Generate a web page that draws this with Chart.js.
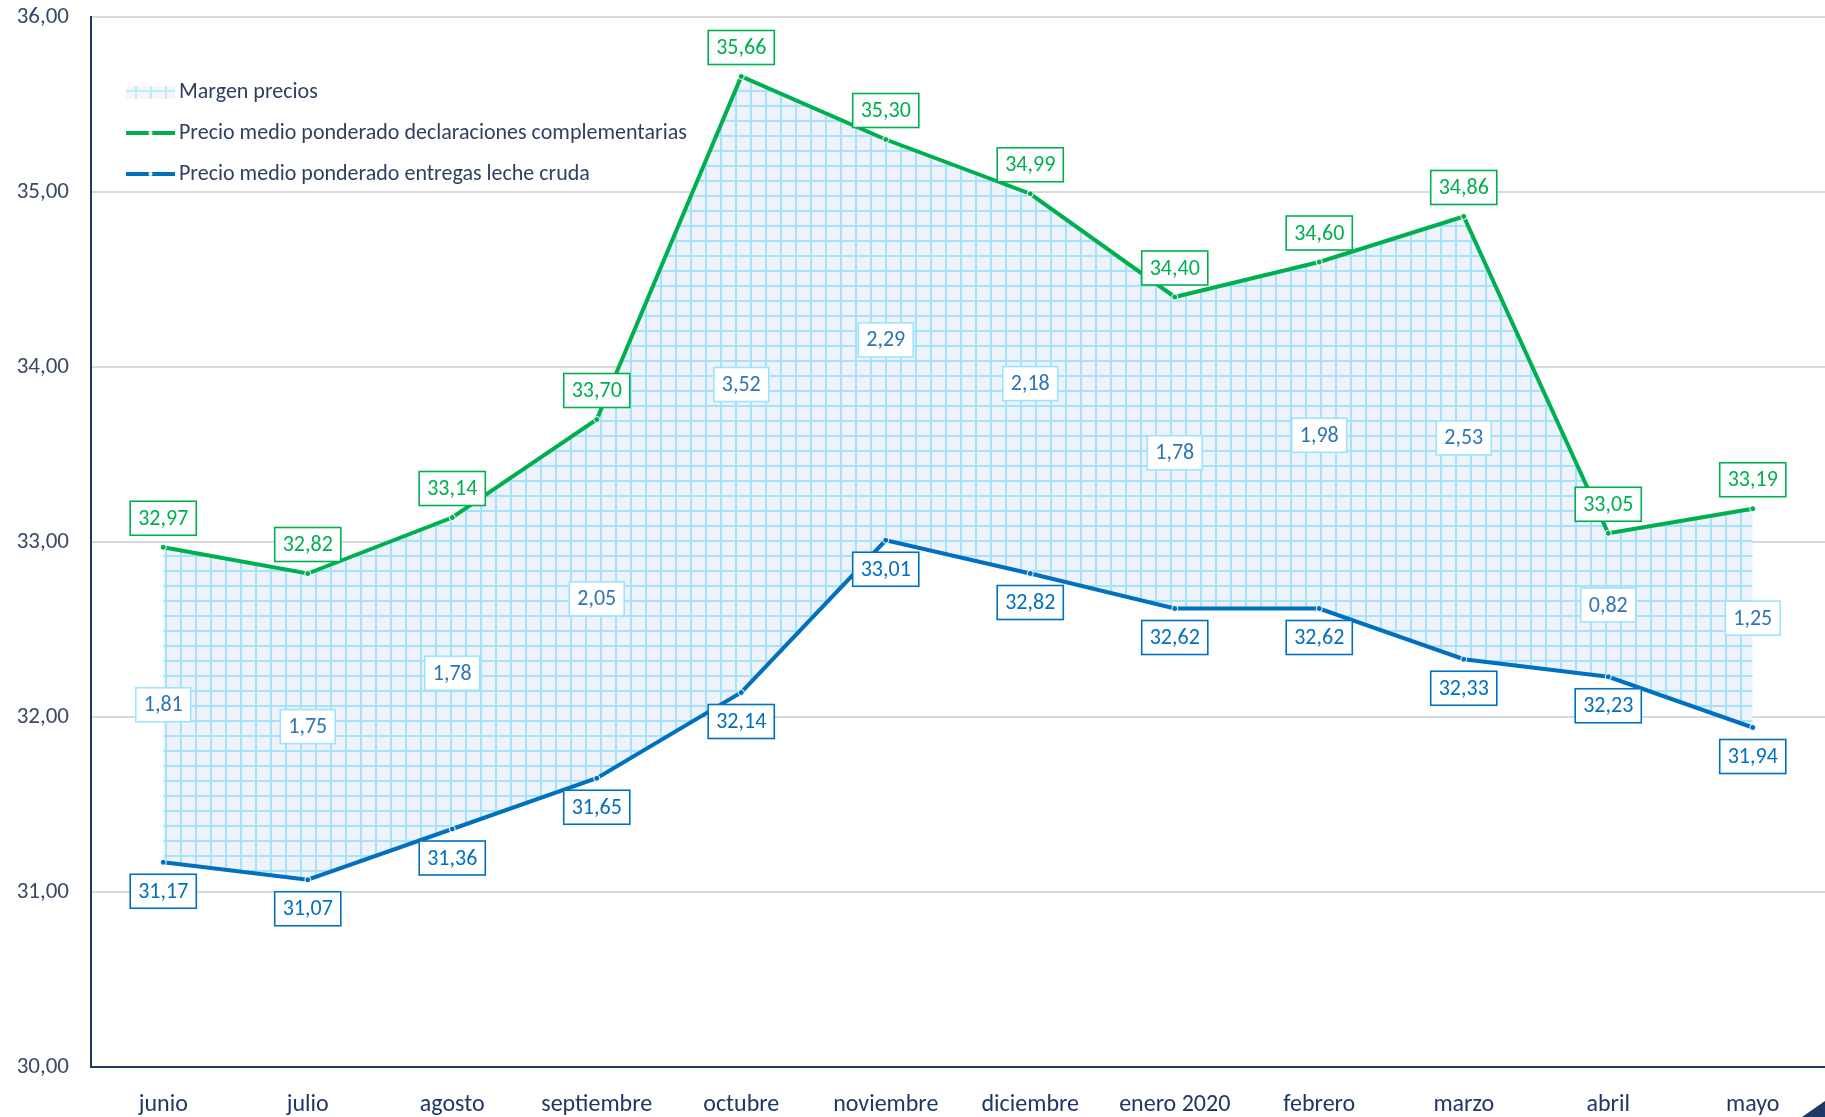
<!DOCTYPE html>
<html>
<head>
<meta charset="utf-8">
<script src="https://cdn.jsdelivr.net/npm/chart.js@4.4.1/dist/chart.umd.min.js"></script>
<style>
  html, body { margin: 0; padding: 0; background: #fff; }
</style>
</head>
<body>
<canvas id="lineChart" width="1825" height="1117"></canvas>
<script>
const meses = ["junio", "julio", "agosto", "septiembre", "octubre", "noviembre", "diciembre", "enero 2020", "febrero", "marzo", "abril", "mayo"];
const precioComplementarias = [32.97, 32.82, 33.14, 33.70, 35.66, 35.30, 34.99, 34.40, 34.60, 34.86, 33.05, 33.19];
const precioEntregas = [31.17, 31.07, 31.36, 31.65, 32.14, 33.01, 32.82, 32.62, 32.62, 32.33, 32.23, 31.94];
const margenPrecios = [1.81, 1.75, 1.78, 2.05, 3.52, 2.29, 2.18, 1.78, 1.98, 2.53, 0.82, 1.25];
const yMin = 30, yMax = 36;

const fuente = "Carlito, Calibri, Lato, sans-serif";
const verde = '#00B050';
const azul = '#0070C0';
const navy = '#1F3864';

const fmt = v => v.toFixed(2).replace('.', ',');

const canvas = document.getElementById('lineChart');
const ctx = canvas.getContext('2d');

// cuadricula del area entre las dos lineas
function cuadricula() {
  const c = document.createElement('canvas');
  c.width = 15; c.height = 15;
  const g = c.getContext('2d');
  g.fillStyle = '#EEF2FA';
  g.fillRect(0, 0, 15, 15);
  g.strokeStyle = '#A6E3FA';
  g.lineWidth = 2;
  g.beginPath();
  g.moveTo(0, 1); g.lineTo(15, 1);
  g.moveTo(1, 0); g.lineTo(1, 15);
  g.stroke();
  return ctx.createPattern(c, 'repeat');
}
const patron = cuadricula();

function caja(c, x, y, texto, borde, color) {
  const w = c.measureText(texto).width + 16;
  const h = 34;
  c.fillStyle = '#fff';
  c.fillRect(x - w / 2, y - h / 2, w, h);
  c.lineWidth = 1.6;
  c.strokeStyle = borde;
  c.strokeRect(x - w / 2, y - h / 2, w, h);
  c.fillStyle = color;
  c.fillText(texto, x, y + 1);
}

const etiquetas = {
  id: 'etiquetas',
  afterDatasetsDraw(chart) {
    const c = chart.ctx;
    const xs = chart.scales.x, ys = chart.scales.y;
    c.save();
    c.font = '22px ' + fuente;
    c.textAlign = 'center';
    c.textBaseline = 'middle';
    meses.forEach((m, i) => {
      const px = xs.getPixelForValue(i);
      const pv = ys.getPixelForValue(precioComplementarias[i]);
      const pa = ys.getPixelForValue(precioEntregas[i]);
      caja(c, px, (pv + pa) / 2, fmt(margenPrecios[i]), '#9EE3FF', '#2E75B6');
      caja(c, px, pv - 29, fmt(precioComplementarias[i]), verde, verde);
      caja(c, px, pa + 29, fmt(precioEntregas[i]), azul, azul);
    });
    c.restore();
  },
  afterDraw(chart) {
    const c = chart.ctx;
    c.save();
    // leyenda
    const x0 = 126, x1 = 175;
    const filas = [92, 133, 174];
    c.font = '22px ' + fuente;
    c.textBaseline = 'middle';
    c.textAlign = 'left';
    c.globalAlpha = 0.7;
    c.fillStyle = patron;
    c.fillRect(x0, filas[0] - 6, x1 - x0, 13);
    c.globalAlpha = 1;
    const lineas = [[verde, filas[1]], [azul, filas[2]]];
    lineas.forEach(([col, fy]) => {
      c.strokeStyle = col;
      c.lineWidth = 4;
      c.beginPath(); c.moveTo(x0, fy); c.lineTo(x1, fy); c.stroke();
      c.fillStyle = '#fff';
      c.beginPath(); c.arc((x0 + x1) / 2, fy, 2, 0, Math.PI * 2); c.fill();
    });
    c.fillStyle = '#2F3F5F';
    c.fillText('Margen precios', 179, filas[0]);
    c.fillText(chart.data.datasets[0].label, 179, filas[1]);
    c.fillText(chart.data.datasets[1].label, 179, filas[2]);
    // esquina
    c.fillStyle = navy;
    c.beginPath();
    c.moveTo(1802, 1117); c.lineTo(1825, 1101); c.lineTo(1825, 1117);
    c.closePath(); c.fill();
    c.restore();
  }
};

new Chart(ctx, {
  type: 'line',
  data: {
    labels: meses,
    datasets: [
      {
        label: 'Precio medio ponderado declaraciones complementarias',
        data: precioComplementarias,
        order: 1,
        borderColor: verde,
        borderWidth: 4,
        backgroundColor: patron,
        fill: '+1',
        pointRadius: 3,
        pointBackgroundColor: verde,
        pointBorderColor: '#fff',
        pointBorderWidth: 1,
        tension: 0
      },
      {
        label: 'Precio medio ponderado entregas leche cruda',
        data: precioEntregas,
        order: 0,
        borderColor: azul,
        borderWidth: 4,
        fill: false,
        pointRadius: 3,
        pointBackgroundColor: azul,
        pointBorderColor: '#fff',
        pointBorderWidth: 1,
        tension: 0
      }
    ]
  },
  options: {
    responsive: false,
    animation: false,
    layout: { autoPadding: false, padding: { top: 17, left: 0, right: 0, bottom: 0 } },
    plugins: {
      legend: { display: false },
      tooltip: { enabled: false }
    },
    scales: {
      x: {
        offset: true,
        grid: { display: false, drawTicks: false },
        border: { color: navy, width: 2 },
        ticks: { color: navy, font: { family: fuente, size: 24 }, padding: 24, maxRotation: 0 },
        afterFit: s => { s.height = 50; }
      },
      y: {
        min: yMin,
        max: yMax,
        grid: { color: '#D9D9D9', lineWidth: 2, drawTicks: false },
        border: { color: navy, width: 2 },
        ticks: {
          stepSize: 1,
          color: '#3A4A66',
          font: { family: fuente, size: 23 },
          padding: 22,
          callback: v => fmt(v)
        },
        afterFit: s => { s.width = 91; s.paddingTop = 14; s.paddingBottom = 14; }
      }
    }
  },
  plugins: [etiquetas]
});
</script>
</body>
</html>
